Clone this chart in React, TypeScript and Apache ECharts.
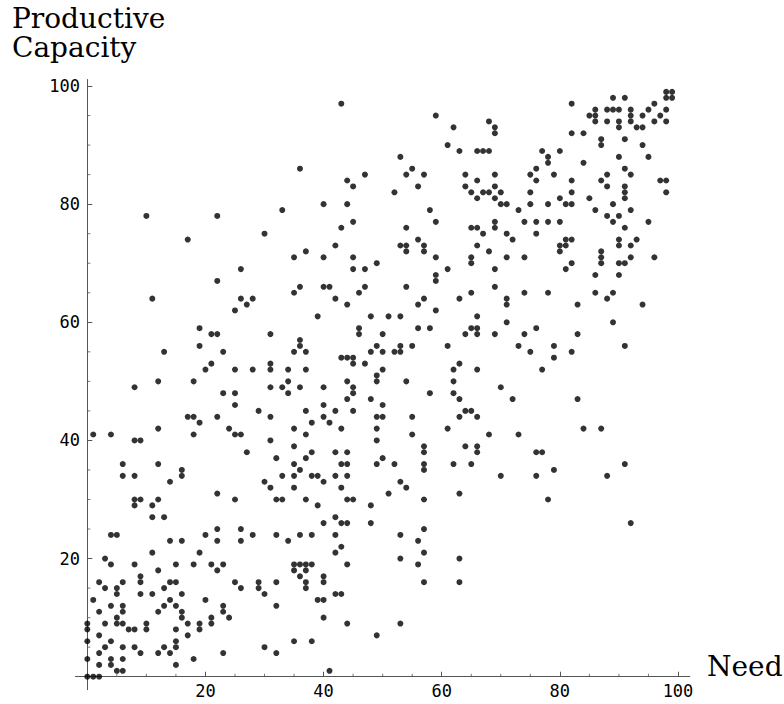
import React, { useEffect, useRef } from "react";
import * as echarts from "echarts";

// [need, productive capacity]
const pointsLow: [number, number][] = [
  [31,32],[22,31],[8,30],[9,30],[12,30],[25,30],[32,30],[33,30],[8,29],[11,29],[11,27],[13,27],[22,25],[26,25],
  [4,24],[5,24],[20,24],[28,24],[32,24],[14,23],[16,23],[22,23],[26,23],[11,21],[19,21],[3,20],
  [4,19],[8,19],[15,19],[18,19],[21,19],[23,19],[12,18],[22,18],[9,17],
  [2,16],[6,16],[9,16],[14,16],[15,16],[25,16],[29,16],[32,16],[3,15],[5,15],[13,15],[26,15],[29,15],
  [5,14],[9,14],[11,14],[16,14],[30,14],[1,13],[14,13],[20,13],[4,12],[6,12],[13,12],[15,12],[23,12],[32,12],
  [2,11],[6,11],[12,11],[16,11],[23,11],[5,10],[16,10],[21,10],[24,10],
  [0,9],[3,9],[5,9],[6,9],[10,9],[17,9],[19,9],[21,9],[0,8],[7,8],[8,8],[10,8],[15,8],[19,8],
  [2,7],[17,7],[0,6],[4,6],[15,6],[3,5],[6,5],[8,5],[13,5],[15,5],[30,5],
  [2,4],[9,4],[12,4],[14,4],[23,4],[32,4],[0,3],[4,3],[6,3],[18,3],[2,2],[4,2],[15,2],[5,1],[6,1],[0,0],[1,0],[2,0],
  [35,32],[43,32],[54,32],[51,31],[63,31],[37,30],[44,30],[45,30],[57,30],[39,29],[48,29],[42,27],
  [40,26],[43,26],[44,26],[48,26],[57,25],[36,24],[38,24],[42,24],[53,24],[34,23],[56,23],[43,22],[42,21],[57,21],
  [53,20],[63,20],[35,19],[36,19],[37,19],[38,19],[44,19],[56,19],[35,18],[37,18],[36,17],[40,17],
  [37,16],[40,16],[57,16],[63,16],[37,15],[42,14],[43,14],[39,13],[40,13],[40,10],[44,9],[53,9],[49,7],
  [35,6],[38,6],[41,1],[78,30],[92,26]
];

const pointsMid: [number, number][] = [
  [11,64],[26,64],[28,64],[27,63],[25,62],[19,59],[21,58],[22,58],[31,58],[19,56],[13,55],[23,55],[21,53],
  [20,52],[25,52],[28,52],[31,52],[31,53],[12,50],[18,50],[8,49],[31,49],[33,49],[23,48],[25,48],[25,46],
  [29,45],[17,44],[18,44],[22,44],[31,44],[19,43],[12,42],[24,42],[1,41],[4,41],[18,41],[25,41],[26,41],
  [8,40],[9,40],[31,40],[27,38],[32,37],[6,36],[12,36],[16,35],[6,34],[8,34],[16,34],[33,34],[14,33],[30,33],
  [36,66],[40,66],[41,66],[47,66],[54,66],[35,65],[46,65],[65,65],[42,64],[57,64],[63,64],[44,63],[56,63],
  [59,62],[39,61],[48,61],[51,61],[53,61],[66,61],[46,59],[56,59],[58,59],[65,59],[66,59],
  [46,58],[50,58],[64,58],[66,58],[36,57],[36,56],[49,56],[53,56],[55,56],[61,56],
  [35,55],[37,55],[48,55],[50,55],[52,55],[53,55],[43,54],[44,54],[45,54],[45,53],[47,53],[63,53],
  [34,52],[37,52],[50,52],[62,52],[66,52],[49,51],[34,50],[44,50],[49,50],[54,50],[62,50],
  [36,49],[40,49],[45,49],[34,48],[45,48],[58,48],[62,48],[44,47],[48,47],[63,47],[40,46],[50,46],
  [37,45],[42,45],[45,45],[64,45],[65,45],[40,44],[49,44],[50,44],[55,44],[63,44],[66,44],
  [38,43],[41,43],[35,42],[43,42],[49,42],[61,42],[37,41],[55,41],[49,40],
  [35,39],[57,39],[64,39],[66,39],[38,38],[42,38],[44,38],[57,38],[66,38],[37,37],[50,37],
  [35,36],[43,36],[44,36],[49,36],[52,36],[57,36],[62,36],[65,36],[36,35],[57,35],
  [35,34],[38,34],[39,34],[42,34],[44,34],[40,33],[53,33],
  [69,66],[74,65],[78,65],[86,65],[89,65],[71,64],[88,64],[71,63],[83,63],[94,63],[71,60],[89,60],[76,59],
  [69,58],[74,58],[83,58],[73,56],[79,56],[91,56],[75,55],[82,55],[79,54],[77,52],[70,49],[72,47],[83,47],
  [84,42],[87,42],[68,41],[73,41],[76,38],[77,38],[91,36],[79,35],[70,34],[76,34],[88,34]
];

const pointsHigh: [number, number][] = [
  [10,78],[22,78],[17,74],[33,79],[30,75],[26,69],[22,67],
  [43,97],[59,95],[62,93],[61,90],[63,89],[66,89],[67,89],[53,88],[36,86],[55,86],[54,85],[57,85],[47,85],
  [44,84],[45,83],[56,83],[64,85],[66,84],[64,83],[65,82],[67,82],[66,81],[52,82],[40,80],[44,80],[58,79],
  [59,77],[45,77],[43,76],[54,76],[65,76],[66,76],[67,75],[56,74],[42,73],[53,73],[54,73],[57,73],[66,73],
  [37,72],[54,72],[57,72],[35,71],[40,71],[45,71],[59,71],[65,71],[65,70],[49,70],[45,69],[47,69],[61,69],
  [59,68],[59,67],
  [98,99],[99,99],[98,98],[99,98],[89,98],[91,98],[82,97],[96,97],
  [86,96],[88,96],[89,96],[90,96],[92,96],[95,96],[98,96],[85,95],[86,95],[92,95],[94,95],[97,95],
  [68,94],[86,94],[88,94],[90,94],[92,94],[96,94],[98,94],[69,93],[90,93],[93,93],[94,93],
  [69,92],[82,92],[84,92],[87,91],[91,91],[87,90],[94,90],[68,89],[77,89],[80,89],
  [78,88],[90,88],[95,88],[78,87],[84,87],[76,86],[91,86],[69,85],[75,85],[79,85],[88,85],[92,85],
  [76,84],[82,84],[87,84],[97,84],[98,84],[69,83],[88,83],[91,83],
  [68,82],[70,82],[75,82],[82,82],[91,82],[98,82],[69,81],[80,81],[85,81],[91,81],
  [70,80],[71,80],[75,80],[78,80],[81,80],[82,80],[89,80],[73,79],[86,79],[92,79],[88,78],[90,78],
  [69,77],[74,77],[76,77],[78,77],[80,77],[89,77],[95,77],[69,76],[91,76],[71,75],[76,75],
  [72,74],[81,74],[82,74],[90,74],[93,74],[80,73],[81,73],[90,73],[92,73],[68,72],[80,72],[87,72],
  [71,71],[74,71],[87,71],[92,71],[96,71],[82,70],[87,70],[90,70],[91,70],[69,69],[81,69],[86,68],[90,68]
];

const majorTicks = [20, 40, 60, 80, 100];
const minorTicks = [5, 10, 15, 25, 30, 35, 45, 50, 55, 65, 70, 75, 85, 90, 95];
const xTitle = "Need";
const yTitle = "Productive\nCapacity";

export default function App() {
  const ref = useRef<HTMLDivElement>(null);
  useEffect(() => {
    document.body.style.margin = "0";
    const chart = echarts.init(ref.current!, null, { renderer: "svg" });
    const axisColor = "#555";
    const labelStyle = { color: "#000", fontFamily: "DejaVu Sans Mono", fontSize: 17 };
    const titleFont = '28px "DejaVu Serif"';
    chart.setOption({
      animation: false,
      backgroundColor: "#fff",
      grid: { left: 75.5, top: 79.5, width: 614.3, height: 610.2, containLabel: false, outerBoundsMode: "none" },
      xAxis: {
        type: "value", min: -2, max: 102,
        axisLine: { show: true, onZero: true, lineStyle: { color: axisColor, width: 1 } },
        axisTick: { show: true, inside: true, length: 5, customValues: majorTicks, lineStyle: { color: axisColor } },
        axisLabel: { customValues: majorTicks, margin: -7.2, ...labelStyle },
        splitLine: { show: false },
      },
      yAxis: {
        type: "value", min: -2.2, max: 101.1,
        axisLine: { show: true, onZero: true, lineStyle: { color: axisColor, width: 1 } },
        axisTick: { show: true, inside: true, length: 5, customValues: majorTicks, lineStyle: { color: axisColor } },
        axisLabel: { customValues: majorTicks, margin: -4.5, ...labelStyle },
        splitLine: { show: false },
      },
      series: [
        {
          type: "scatter", clip: false, silent: true,
          data: minorTicks.map((v) => [v, 0]),
          symbol: "rect", symbolSize: [1, 3], symbolOffset: [0, -1.5],
          itemStyle: { color: axisColor },
        },
        {
          type: "scatter", clip: false, silent: true,
          data: minorTicks.map((v) => [0, v]),
          symbol: "rect", symbolSize: [3, 1], symbolOffset: [1.5, 0],
          itemStyle: { color: axisColor },
        },
        {
          type: "scatter", clip: false,
          data: [...pointsLow, ...pointsMid, ...pointsHigh],
          symbol: "circle", symbolSize: 6,
          itemStyle: { color: "#000" },
        },
      ],
      graphic: [
        { type: "text", left: 12, top: 4.5, style: { text: yTitle, font: titleFont, lineHeight: 28.5, fill: "#000" } },
        { type: "text", left: 707, top: 652, style: { text: xTitle, font: titleFont, fill: "#000" } },
      ],
    });
    return () => chart.dispose();
  }, []);
  return <div ref={ref} style={{ width: 784, height: 704 }} />;
}
